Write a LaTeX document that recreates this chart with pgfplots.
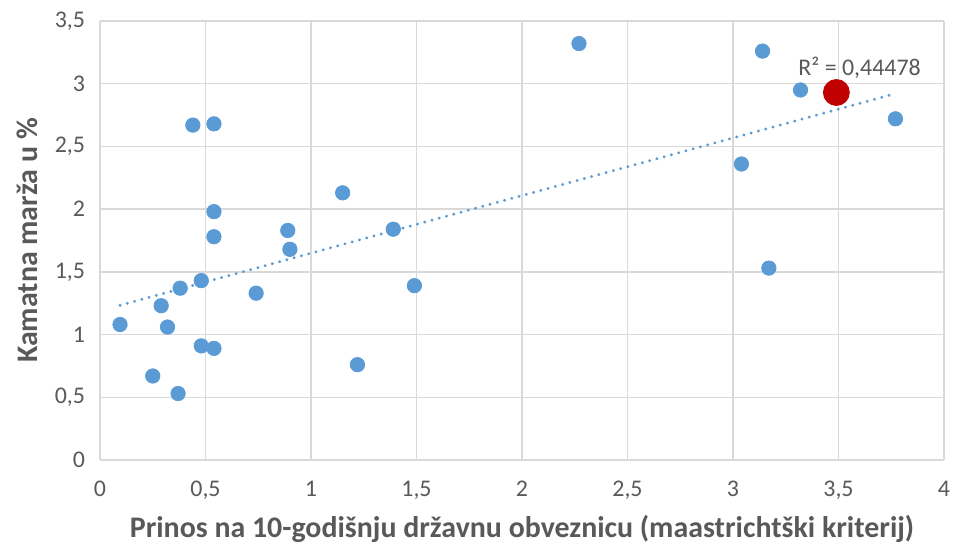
\documentclass[border=0pt]{standalone}
\usepackage{fontspec}
\setmainfont{Carlito}
\usepackage{pgfplots}
\usepackage{pgfplotstable}
\pgfplotsset{compat=1.18}

\definecolor{dotblue}{HTML}{5B9BD5}
\definecolor{dotred}{HTML}{C00000}
\definecolor{txtgray}{HTML}{595959}
\definecolor{gridgray}{HTML}{D9D9D9}

% x = prinos 10-god. obveznice, y = kamatna marza (sorted by x)
\pgfplotstableread{
X     Y
0.095 1.08
0.25  0.67
0.29  1.23
0.32  1.06
0.37  0.53
0.38  1.37
0.44  2.67
0.48  0.91
0.48  1.43
0.54  1.78
0.54  1.98
0.54  2.68
0.54  0.89
0.74  1.33
0.89  1.83
0.90  1.68
1.15  2.13
1.22  0.76
1.39  1.84
1.49  1.39
2.27  3.32
3.04  2.36
3.14  3.26
3.17  1.53
3.32  2.95
3.49  2.93
3.77  2.72
}\sample

\pgfplotstableread{
X     Y
3.49  2.93
}\highlight

\begin{document}
\begin{tikzpicture}
\useasboundingbox (-50bp,-42bp) rectangle (426.5bp,230bp);
\begin{axis}[
    at={(0,0)}, anchor=south west,
    scale only axis,
    width=422bp, height=219.5bp,
    xmin=0, xmax=4, ymin=0, ymax=3.5,
    xtick={0,0.5,...,4}, ytick={0,0.5,...,3.5},
    grid=major,
    major grid style={gridgray, line width=0.75bp},
    axis line style={draw=none},
    tick style={draw=none},
    /pgf/number format/use comma,
    /pgf/number format/assume math mode=true,
    ticklabel style={font=\fontsize{12}{14}\selectfont, text=txtgray},
    xticklabel style={yshift=-7bp},
    yticklabel style={xshift=-4bp},
    label style={font=\fontsize{15}{18}\selectfont\bfseries, text=txtgray},
    xlabel={Prinos na 10-godišnju državnu obveznicu (maastrichtški kriterij)},
    ylabel={Kamatna marža u \%},
    xlabel style={at={([yshift=-34.5bp]rel axis cs:0.5,0)}, anchor=center},
    ylabel style={at={([xshift=-36.5bp]rel axis cs:0,0.5)}, anchor=center},
    clip=false,
]
\addplot[only marks, mark=*, mark size=3.6bp, mark options={draw=dotblue, fill=dotblue}]
    table[x=X, y=Y] {\sample};
\addplot[dotblue, line width=1.6bp, line cap=round, dash pattern=on 0.01bp off 3.75bp]
    table[x=X, y={create col/linear regression={y=Y}}] {\sample};
\addplot[only marks, mark=*, mark size=6.5bp, mark options={draw=dotred, fill=dotred}]
    table[x=X, y=Y] {\highlight};
\node[font=\fontsize{12}{14}\selectfont, text=txtgray] at (axis cs:3.60,3.13) {R² = 0,44478};
\end{axis}
\end{tikzpicture}
\end{document}
